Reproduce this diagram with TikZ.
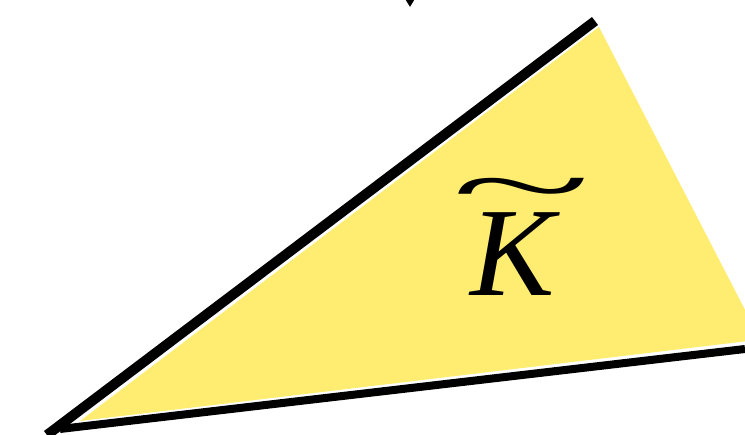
\documentclass[tikz,border=0pt]{standalone}
\usepackage{amsmath,amssymb}
\usepackage{graphicx}
\usepackage{fontspec}
\setmainfont{Liberation Serif}
\usepackage{tikz}
\usepackage{xcolor}
\definecolor{coneyellow}{RGB}{254, 237, 112}
\usetikzlibrary{arrows.meta}

\begin{document}
\begin{tikzpicture}[x=0.02cm,y=-0.02cm]
    \useasboundingbox (0,0) rectangle (745,435);
    \clip (0,0) rectangle (745,435);

    % Corner points of the cone
    \coordinate (apex) at (47,435);
    \coordinate (tip) at (595,21);
    \coordinate (base) at (60,429);
    \coordinate (far) at (745,349);

    % Cone region
    \fill[coneyellow] (80,421) -- (599,27) -- (790,397) -- (790,336) -- cycle;

    % Boundary rays
    \draw[line width=0.2cm] (apex) -- (tip);
    \draw[line width=0.16cm] (base) -- (far);

    % Incoming arrow from above
    \coordinate (from) at (410,-40);
    \coordinate (to) at (410,7);
    \draw[line width=0.04cm, -{Triangle[width=0.18cm,length=0.16cm]}] (from) -- (to);

    \node[scale=7.2, inner sep=0pt] (label) at (515,226)
        {\begin{tabular}{@{}c@{}}\hspace{0.1em}\scalebox{2.05}[0.75]{\textasciitilde}\\[-5.8pt]\textit{K}\end{tabular}};
\end{tikzpicture}
\end{document}
